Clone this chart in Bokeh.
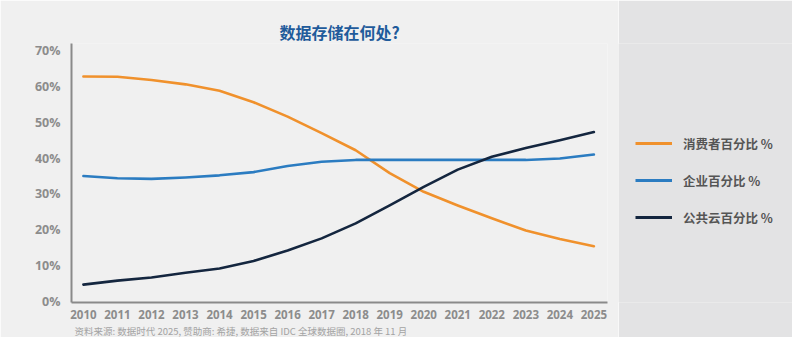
from bokeh.plotting import figure
from bokeh.layouts import row
from bokeh.models import Range1d, FixedTicker, PrintfTickFormatter, Title, Legend, LegendItem
from bokeh.embed import file_html
from bokeh.resources import INLINE

years = list(range(2010, 2026))
consumer = [62.8, 62.7, 61.8, 60.6, 58.8, 55.6, 51.6, 47.0, 42.2, 35.8, 30.6, 26.8, 23.2, 19.8, 17.4, 15.4]
enterprise = [35.0, 34.4, 34.2, 34.6, 35.2, 36.1, 37.8, 39.0, 39.5, 39.5, 39.5, 39.5, 39.5, 39.5, 39.9, 41.0]
public_cloud = [4.7, 5.8, 6.7, 8.0, 9.2, 11.3, 14.2, 17.6, 21.8, 26.8, 32.0, 36.8, 40.4, 42.8, 45.0, 47.3]
series_names = ["消费者百分比 %", "企业百分比 %", "公共云百分比 %"]
y_ticks = [0, 10, 20, 30, 40, 50, 60, 70]
title_text = "数据存储在何处?"
source_text = "资料来源: 数据时代 2025, 赞助商: 希捷, 数据来自 IDC 全球数据圈, 2018 年 11 月"

colors = ["#f0912c", "#2b7cc1", "#14263f"]
BG = "#f0f0f0"
PANEL = "#e3e3e4"
CJK = "Noto Sans CJK SC"

p = figure(width=618, height=337, output_backend="svg", toolbar_location=None,
           x_range=Range1d(2009.65, 2025.4), y_range=Range1d(-0.3, 72),
           min_border_left=71, min_border_right=11, min_border_top=43, min_border_bottom=35)
p.background_fill_color = BG
p.border_fill_color = BG
p.outline_line_color = None
p.grid.visible = False

p.title = Title(text=title_text, align="center", offset=12, standoff=0,
                text_font=CJK, text_font_style="bold", text_font_size="16px",
                text_color="#1f5b9b")
p.add_layout(Title(text=source_text, align="left", offset=3, standoff=0,
                   text_font=CJK, text_font_style="normal", text_font_size="9.5px",
                   text_color="#a3a3a3"), "below")

for ax in (p.xaxis, p.yaxis):
    ax.axis_line_color = "#8a8a8a"
    ax.axis_line_width = 2
    ax.major_tick_line_color = None
    ax.minor_tick_line_color = None
    ax.major_label_text_color = "#8c8c8c"
    ax.major_label_text_font = "Open Sans"
    ax.major_label_text_font_style = "bold"
p.xaxis.major_label_text_font_size = "11.5px"
p.yaxis.major_label_text_font_size = "12.5px"
p.xaxis.ticker = FixedTicker(ticks=years)
p.yaxis.ticker = FixedTicker(ticks=y_ticks)
p.yaxis.formatter = PrintfTickFormatter(format="%d%%")
p.xaxis.major_label_standoff = 1
p.yaxis.major_label_standoff = 5

for ys, c in zip([consumer, enterprise, public_cloud], colors):
    p.line(years, ys, line_color=c, line_width=2.6, line_join="round", line_cap="round")

# right legend panel
q = figure(width=174, height=337, output_backend="svg", toolbar_location=None,
           x_range=Range1d(0, 1), y_range=Range1d(1000, 1001),
           min_border_left=0, min_border_right=0, min_border_top=0, min_border_bottom=0)
q.axis.visible = False
q.grid.visible = False
q.outline_line_color = None
q.background_fill_color = PANEL
q.border_fill_color = PANEL
items = []
for ys, c, n in zip([consumer, enterprise, public_cloud], colors, series_names):
    r = q.line(years, ys, line_color=c, line_width=3)
    items.append(LegendItem(label=n, renderers=[r]))
leg = Legend(items=items, location=(17, 75), orientation="vertical",
             glyph_width=37, glyph_height=20, label_height=20, label_standoff=11,
             spacing=17, padding=0, margin=0, border_line_alpha=0, background_fill_alpha=0,
             label_text_font=CJK, label_text_font_style="bold", label_text_font_size="12.5px",
             label_text_color="#555555")
q.add_layout(leg)

layout = row(p, q, spacing=0)
open("out.html", "w").write(file_html(layout, INLINE))
